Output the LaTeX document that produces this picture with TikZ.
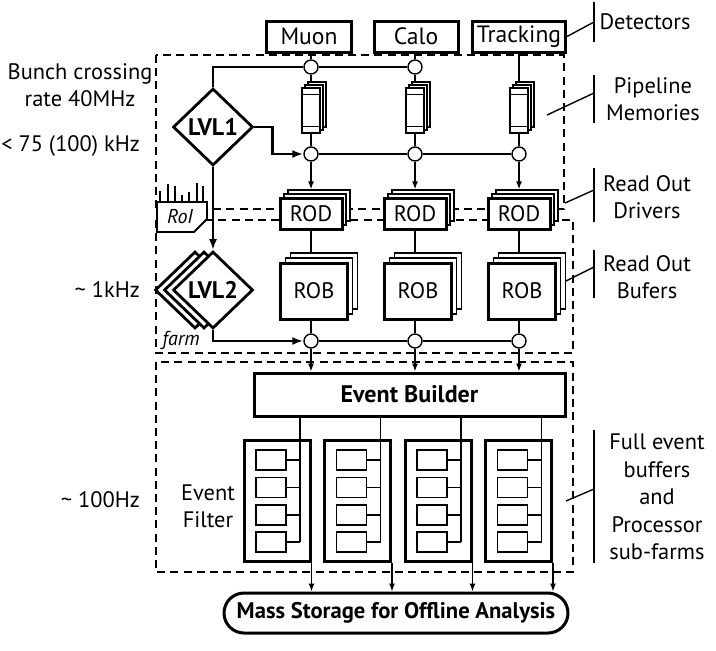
\documentclass[tikz,border=0pt]{standalone}
\usepackage{fontspec}
\setmainfont{PT Sans}
\usetikzlibrary{positioning,shapes.geometric,arrows.meta}

\begin{document}
\begin{tikzpicture}[x=0.5pt, y=-0.5pt, font=\fontsize{11.2}{13.7}\selectfont,
    thinline/.style={line width=0.65pt},
    bus/.style={line width=1.35pt},
    region/.style={line width=0.75pt, dash pattern=on 4pt off 2.6pt},
    detbox/.style={draw, line width=1.5pt, minimum height=15.5pt, inner sep=0pt, font=\fontsize{11.8}{13}\selectfont},
    junc/.style={circle, draw, line width=0.7pt, fill=white, minimum size=7pt, inner sep=0pt},
    sheet/.style={draw, line width=0.65pt, fill=white, inner sep=0pt},
    card/.style={draw, line width=1.5pt, fill=white, inner sep=0pt},
    trig/.style={diamond, draw, line width=1.4pt, fill=white, minimum width=40pt, minimum height=38.5pt, inner sep=0pt, font=\fontsize{12}{13}\selectfont\bfseries},
    tip/.style={-{Latex[length=5.5pt,width=4pt]}},
    smalltip/.style={-{Latex[length=4pt,width=3pt]}},
    brace/.style={line width=0.7pt}]
  \useasboundingbox (0,0) rectangle (716,650);
  %\draw [dotted] (0,0) grid[step=50] (716,650);

  % dashed regions
  \draw [region] (156,55)  rectangle (564,209);
  \draw [region] (156,220) rectangle (573,353);
  \draw [region] (156,362) rectangle (573,572);

  % detectors
  \node [detbox, minimum width=42.5pt] (mu) at (309, 36.5) {Muon};
  \node [detbox, minimum width=42pt]   (ca) at (416, 36.5) {Calo};
  \node [detbox, minimum width=46.5pt] (tr) at (519, 36.5) {Tracking};

  % junctions
  \node [junc] (j11) at (311, 67) {};
  \node [junc] (j12) at (415, 67) {};
  \foreach \i/\c in {1/311,2/415,3/519} {
    \node [junc] (j2\i) at (\c,154) {};
    \node [junc] (j3\i) at (\c,341) {};
  }

  % pipelines, RODs, ROBs
  \foreach \i/\c in {1/311,2/415,3/519} {
    \node [sheet, minimum width=9pt, minimum height=22.5pt] (pmb\i) at (\c+6,104.5) {};
    \node [sheet, minimum width=9pt, minimum height=22.5pt]         at (\c+3,107.5) {};
    \node [sheet, minimum width=9pt, minimum height=22.5pt] (pm\i)  at (\c,110.5) {};
    \draw [thinline] ([yshift=-3.5pt]pm\i.north west) -- ([yshift=-3.5pt]pm\i.north east)
                     ([yshift=3.5pt]pm\i.south west) -- ([yshift=3.5pt]pm\i.south east);
    \node [sheet, minimum width=31pt, minimum height=15.5pt] (rodb\i) at (\c+8,205.5) {};
    \node [sheet, minimum width=31pt, minimum height=15.5pt]          at (\c+4,209.5) {};
    \node [card,  minimum width=31pt, minimum height=15.5pt] (rod\i)  at (\c,213.5) {ROD};
    \node [sheet, minimum width=33.5pt, minimum height=28pt] (robb\i) at (\c+13,281) {};
    \node [sheet, minimum width=33.5pt, minimum height=28pt]          at (\c+8,286) {};
    \node [card,  minimum width=33.5pt, minimum height=28pt] (rob\i)  at (\c+3,291) {ROB};
    \draw [thinline] (pm\i.south) -- (j2\i);
    \draw [thinline, smalltip] (j2\i) -- (j2\i |- rodb\i.north);
    \draw [thinline] (rod\i.south) -- (rod\i.south |- robb\i.north);
    \draw [thinline] (j3\i |- rob\i.south) -- (j3\i);
  }
  \draw [thinline] (mu.south -| j11) -- (j11);
  \draw [thinline] (ca.south -| j12) -- (j12);
  \draw [thinline] (j11) -- (j11 |- pmb1.north);
  \draw [thinline] (j12) -- (j12 |- pmb2.north);
  \draw [thinline] (tr.south) -- (tr.south |- pmb3.north);

  % trigger levels
  \node [trig] (lvl1) at (213,127) {LVL1};
  \node [trig]        at (195,290) {};
  \node [trig]        at (204,290) {};
  \node [trig] (lvl2) at (213,290) {LVL2};
  \draw [bus] (lvl1.north) |- (j11);
  \draw [bus] (j11) -- (j12);
  \draw [bus, tip] (lvl1.east) -- ++(18,0) |- (j21);
  \draw [bus] (j21) -- (j22);
  \draw [bus] (j22) -- (j23);
  \draw [bus, tip] (lvl1.south) -- (lvl2.north);
  \draw [bus, tip] (lvl2.south) |- (j31);
  \draw [bus] (j31) -- (j32);
  \draw [bus] (j32) -- (j33);

  % RoI
  \draw [line width=0.9pt, fill=white] (157,202) -- (207,202) -- (207,219) -- (194,232) -- (157,232) -- cycle;
  \node [font=\itshape] (roi) at (180,217) {RoI};
  \foreach \x/\t in {160/191,168/184,175/186,182/195,189/192,197/183,203/186}
    \draw [thinline] (\x,202) -- (\x,\t);
  \node [font=\itshape] (farm) at (181,340) {farm};

  % event builder and filter
  \node [card, minimum width=155.5pt, minimum height=21.5pt, font=\fontsize{12}{13}\selectfont\bfseries] (eb) at (409.5,394.5) {Event Builder};
  \foreach \i in {1,2,3}
    \draw [thinline, smalltip] (j3\i) -- (j3\i |- eb.north);
  \node [draw, line width=1.5pt, rounded corners=10pt, minimum width=172pt, minimum height=20pt, inner sep=0pt,
         font=\fontsize{11.3}{13}\selectfont\bfseries] (ms) at (396,613) {Mass Storage for Offline Analysis};
  \foreach \k in {0,...,3} {
    \node [card, minimum width=33pt, minimum height=60.5pt] (ef\k) at (277+80.5*\k,500.5) {};
    \coordinate (tap\k) at (300+80.5*\k,542);
    \draw [thinline] (tap\k |- eb.south) -- (tap\k);
    \foreach \r/\y in {1/460,2/487.5,3/515,4/542} {
      \node [sheet, minimum width=15pt, minimum height=10pt] (pu\k\r) at (271+80.5*\k,\y) {};
      \draw [thinline] (pu\k\r.east) -- (pu\k\r.east -| tap\k);
    }
    \draw [thinline, smalltip] (ef\k.south east) -- (ef\k.south east |- ms.north);
  }
  \node [align=center] (efl) at (208,506) {Event\\Filter};

  % rates
  \node [align=center]   (bx)   at (80,85)   {Bunch crossing\\rate 40MHz};
  \node [anchor=east]    (r1)   at (147,146) {< 75 (100) kHz};
  \node [anchor=east]    (r2)   at (147,290) {\textasciitilde{} 1kHz};
  \node [anchor=east]    (r3)   at (147,500) {\textasciitilde{} 100Hz};

  % right labels
  \node                  (dt)   at (645,22)  {Detectors};
  \node [align=center]   (pl)   at (653,99)  {Pipeline\\Memories};
  \node [align=center]   (rd)   at (647,197) {Read Out\\Drivers};
  \node [align=center]   (rb)   at (647,277) {Read Out\\Bufers};
  \node [align=center]   (fe)   at (657,497) {Full event\\buffers\\and\\Processor\\sub-farms};
  \coordinate (dt-b) at (594,22);   \draw [brace] (594,2)   -- (594,42);
  \coordinate (pl-b) at (594,93);   \draw [brace] (594,75)  -- (594,123);
  \coordinate (rd-b) at (594,190);  \draw [brace] (594,168) -- (594,222);
  \coordinate (rb-b) at (594,267);  \draw [brace] (594,250) -- (594,298);
  \coordinate (fe-b) at (594,489);  \draw [brace] (594,430) -- (594,563);
  \coordinate (pl-p) at (547,115);
  \coordinate (rd-p) at (565,203);
  \coordinate (rb-p) at (566,281);
  \coordinate (fe-p) at (566,501);
  \draw [brace] (tr.east) -- (dt-b);
  \draw [brace] (pl-p) -- (pl-b);
  \draw [brace] (rd-p) -- (rd-b);
  \draw [brace] (rb-p) -- (rb-b);
  \draw [brace] (fe-p) -- (fe-b);
\end{tikzpicture}
\end{document}
